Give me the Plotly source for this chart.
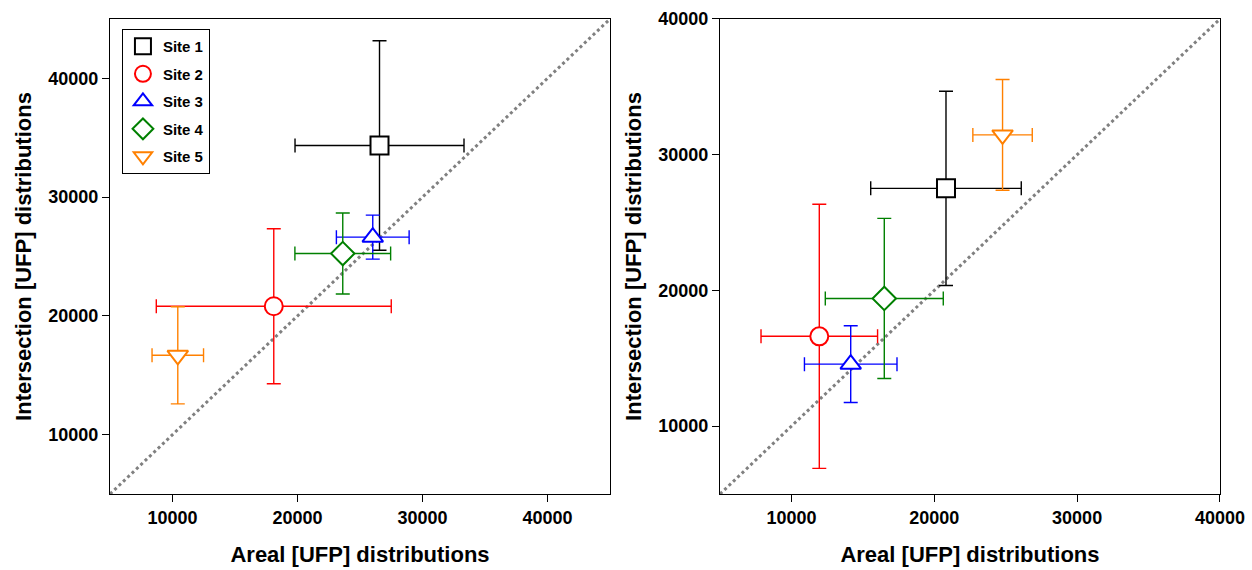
import plotly.graph_objects as go

# Site labels and styling
sites = ["Site 1", "Site 2", "Site 3", "Site 4", "Site 5"]
colors = ["#000000", "#ff0000", "#0000ff", "#008000", "#ff8000"]
symbols = ["square", "circle", "triangle-up", "diamond", "triangle-down"]

# Left panel: mean values and standard deviations
left_x = [26560, 18100, 26020, 23620, 10420]
left_x_err = [6760, 9400, 2910, 3830, 2060]
left_y = [34350, 20810, 26630, 25250, 16680]
left_y_err = [8820, 6530, 1850, 3410, 4090]

# Right panel: mean values and standard deviations
right_x = [20820, 11950, 14150, 16500, 24780]
right_x_err = [5270, 4080, 3240, 4130, 2080]
right_y = [27520, 16620, 14570, 19410, 31460]
right_y_err = [7160, 9730, 2830, 5900, 4080]

left_range = [5000, 45000]
right_range = [5000, 40000]
tick_vals = [10000, 20000, 30000, 40000]
tick_text = ["10000", "20000", "30000", "40000"]

FONT = "Liberation Sans, Arial, sans-serif"

fig = go.Figure()

# 1:1 reference lines
for rng, xa, ya in [(left_range, "x", "y"), (right_range, "x2", "y2")]:
    fig.add_trace(go.Scatter(
        x=rng, y=rng, mode="lines", xaxis=xa, yaxis=ya,
        line=dict(color="#808080", width=3, dash="dot"),
        showlegend=False, hoverinfo="skip",
    ))

def add_panel(xs, xe, ys, ye, xa, ya, show):
    for i, name in enumerate(sites):
        fig.add_trace(go.Scatter(
            x=[xs[i]], y=[ys[i]], mode="markers", name=name,
            xaxis=xa, yaxis=ya, showlegend=show, legendgroup=name,
            marker=dict(symbol=symbols[i], size=18, color="white",
                        line=dict(color=colors[i], width=2)),
            error_x=dict(type="data", array=[xe[i]], color=colors[i],
                         thickness=1.4, width=7),
            error_y=dict(type="data", array=[ye[i]], color=colors[i],
                         thickness=1.4, width=7),
        ))

add_panel(left_x, left_x_err, left_y, left_y_err, "x", "y", True)
add_panel(right_x, right_x_err, right_y, right_y_err, "x2", "y2", False)

tick_font = dict(family=FONT, size=18, color="black", weight="bold")
title_font = dict(family=FONT, size=22, color="black", weight="bold")

def axis(rng, domain, anchor, title, standoff):
    return dict(
        range=rng, domain=domain, anchor=anchor, automargin=False,
        tickvals=tick_vals, ticktext=tick_text,
        ticks="outside", ticklen=7, tickwidth=1.2,
        tickcolor="black", showline=True, linecolor="black", linewidth=1.3,
        mirror=True, showgrid=False, zeroline=False,
        tickfont=tick_font,
        title=dict(text=title, font=title_font, standoff=standoff),
    )

fig.update_layout(
    width=1252, height=570,
    margin=dict(l=0, r=0, t=0, b=0, autoexpand=False),
    paper_bgcolor="white", plot_bgcolor="white",
    xaxis=axis(left_range, [0.0879, 0.4872], "y", "Areal [UFP] distributions", 19),
    yaxis=axis(left_range, [0.1333, 0.9667], "x", "Intersection [UFP] distributions", 10),
    xaxis2=axis(right_range, [0.5751, 0.9744], "y2", "Areal [UFP] distributions", 19),
    yaxis2=axis(right_range, [0.1333, 0.9667], "x2", "Intersection [UFP] distributions", 10),
    legend=dict(
        x=0.0974, y=0.949, xanchor="left", yanchor="top",
        bordercolor="black", borderwidth=1, bgcolor="white",
        font=dict(family=FONT, size=15, color="black", weight="bold"),
        itemwidth=30, tracegroupgap=5,
    ),
    showlegend=True,
)

fig.write_html("out.html")
